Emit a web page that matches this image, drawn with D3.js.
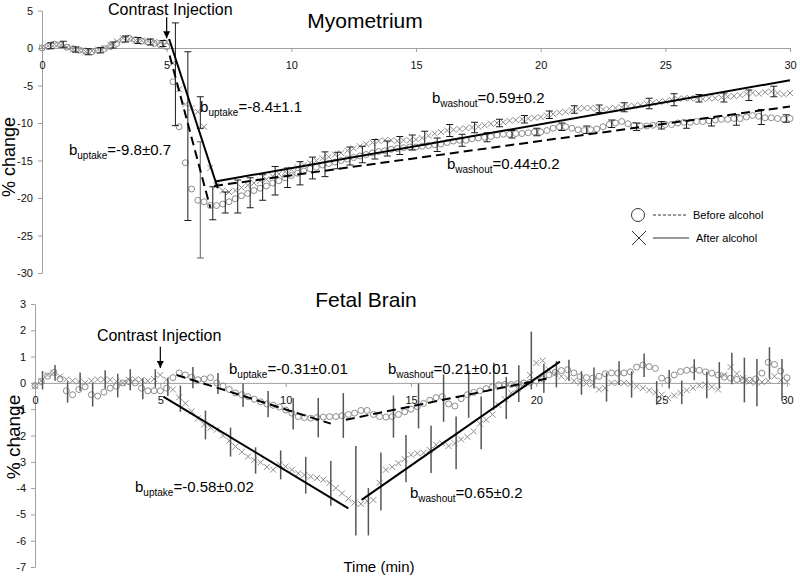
<!DOCTYPE html>
<html><head><meta charset="utf-8">
<script src="https://cdn.jsdelivr.net/npm/d3@7"></script>
<style>body{margin:0;background:#fff}svg{display:block}text{font-family:"Liberation Sans",Arial,sans-serif}</style>
</head><body><svg id="c" width="800" height="579"></svg>
<script>
// ---------- DATA ----------
const times = d3.range(121).map(i => i * 0.25); // minutes, 0..30

const myoBefore = [
0.0,0.2,0.5,0.4,0.1,-0.1,-0.3,-0.4,-0.5,-0.3,
-0.1,0.2,0.6,1.1,1.3,1.1,0.9,0.8,0.6,0.4,
0.2,-4.5,-10.5,-15.3,-18.8,-20.3,-20.5,-21.0,-21.0,-20.8,
-20.5,-20.1,-19.7,-19.4,-19.0,-18.7,-18.4,-18.0,-17.7,-17.3,
-17.0,-16.7,-16.4,-16.1,-15.9,-15.6,-15.4,-15.2,-15.0,-14.8,
-14.6,-14.4,-14.2,-14.0,-13.8,-13.7,-13.5,-13.4,-13.3,-13.2,
-13.2,-13.1,-13.0,-12.9,-12.8,-12.6,-12.4,-12.3,-12.3,-12.1,
-12.0,-11.9,-11.8,-11.6,-11.5,-11.5,-11.4,-11.4,-11.3,-11.2,
-11.2,-11.0,-10.7,-10.5,-10.5,-10.7,-10.9,-11.0,-10.9,-10.8,
-10.5,-10.2,-10.0,-9.8,-10.1,-10.3,-10.4,-10.4,-10.3,-10.2,
-10.2,-10.2,-10.0,-9.9,-9.9,-9.8,-9.8,-9.7,-9.6,-9.5,
-9.5,-9.4,-9.4,-9.2,-9.0,-9.1,-9.3,-9.3,-9.4,-9.5,
-9.4];
const myoAfter = [
0.1,0.3,0.5,0.4,0.1,-0.2,-0.3,-0.5,-0.4,-0.2,
0.0,0.4,0.9,1.3,1.2,1.0,1.0,0.9,0.8,0.7,
0.8,-2.0,-5.5,-7.5,-8.0,-8.5,-10.5,-16.0,-18.3,-19.0,
-19.2,-19.0,-18.6,-18.3,-18.0,-17.7,-17.5,-17.1,-16.8,-16.5,
-16.2,-15.9,-15.6,-15.3,-15.0,-14.7,-14.5,-14.2,-14.0,-13.7,
-13.4,-13.1,-12.8,-12.6,-12.4,-12.3,-12.3,-12.4,-12.3,-12.3,
-12.2,-12.0,-11.7,-11.4,-11.2,-11.0,-10.9,-10.8,-10.7,-10.6,
-10.5,-10.3,-10.1,-10.0,-9.9,-9.7,-9.6,-9.5,-9.4,-9.3,
-9.2,-9.0,-8.8,-8.6,-8.5,-8.3,-8.1,-8.0,-8.0,-8.1,
-8.2,-8.1,-8.0,-7.9,-7.8,-7.7,-7.6,-7.4,-7.3,-7.2,
-7.1,-6.9,-6.8,-6.7,-6.7,-6.7,-6.8,-6.7,-6.7,-6.6,
-6.5,-6.4,-6.3,-6.1,-6.0,-6.1,-5.9,-5.8,-6.0,-6.2,
-6.0];
const brainBefore = [
-0.1,0.05,0.25,0.4,0.15,-0.3,-0.45,-0.25,-0.15,-0.45,
-0.5,-0.35,-0.2,-0.13,0.0,0.05,0.0,-0.2,-0.3,-0.3,
-0.3,-0.2,0.2,0.38,0.3,0.22,0.12,0.15,0.2,0.0,
-0.12,-0.25,-0.38,-0.45,-0.52,-0.62,-0.72,-0.8,-0.85,-0.92,
-1.03,-1.15,-1.28,-1.32,-1.34,-1.32,-1.3,-1.28,-1.28,-1.25,
-1.2,-1.15,-1.05,-1.05,-1.2,-1.28,-1.3,-1.28,-1.2,-1.1,
-1.0,-0.9,-0.78,-0.66,-0.56,-0.52,-0.8,-0.88,-0.6,-0.45,
-0.36,-0.3,-0.22,-0.15,-0.07,-0.06,-0.06,-0.03,0.0,0.02,
0.08,0.15,0.3,0.4,0.47,0.5,0.38,0.24,0.2,0.18,
0.25,0.35,0.38,0.37,0.38,0.42,0.6,0.68,0.62,0.55,
0.18,0.1,0.3,0.43,0.48,0.5,0.48,0.42,0.37,0.3,
0.22,0.18,0.13,0.11,0.1,0.15,0.37,0.78,0.7,0.45,
0.2];
const brainAfter = [
-0.13,0.08,0.3,0.38,0.25,0.13,0.08,0.05,0.0,0.08,
0.13,0.13,0.12,0.05,0.0,0.12,0.13,0.12,0.08,0.15,
0.3,0.12,-0.25,-0.55,-0.78,-1.08,-1.35,-1.58,-1.7,-1.78,
-2.0,-2.2,-2.42,-2.62,-2.8,-2.93,-3.02,-3.2,-3.3,-3.1,
-3.18,-3.3,-3.44,-3.5,-3.56,-3.62,-3.68,-3.8,-4.0,-4.2,
-4.4,-4.55,-4.6,-4.5,-4.45,-3.8,-3.3,-3.2,-3.05,-2.9,
-2.73,-2.68,-2.66,-2.55,-2.35,-2.3,-2.4,-2.3,-2.15,-2.05,
-1.85,-1.55,-1.4,-1.2,-0.85,-0.62,-0.38,-0.22,-0.05,0.3,
0.76,0.85,0.5,0.35,0.25,0.18,0.08,0.0,-0.02,-0.06,
-0.25,-0.2,0.0,0.0,0.0,-0.05,-0.13,-0.2,-0.28,-0.36,
-0.45,-0.57,-0.48,-0.38,-0.28,-0.19,-0.1,-0.06,-0.15,-0.25,
0.3,0.6,0.35,0.18,0.05,0.0,0.03,0.08,0.25,0.1,
0.05];

// error bars (time, centre, half-length)
const myoErrT = d3.range(60).map(i => 0.35 + i * 0.5);
const myoErrMid = [
0.3,0.5,-0.2,-0.5,-0.3,0.4,1.2,1.0,0.8,0.6,
-3.5,-11.75,-8.6,-20.7,-20.6,-19.8,-19.3,-18.6,-17.7,-17.3,
-16.7,-16.0,-15.5,-15.0,-14.4,-14.2,-13.5,-13.4,-13.0,-12.6,
-12.0,-12.9,-11.0,-12.3,-10.6,-11.9,-10.0,-11.5,-9.5,-11.2,
-8.9,-10.5,-8.2,-10.9,-8.1,-10.1,-7.9,-10.5,-7.4,-10.3,
-6.9,-10.2,-6.7,-9.9,-6.6,-9.6,-6.3,-9.2,-5.8,-9.4];
const myoErrHalf = [
0.4,0.4,0.35,0.4,0.35,0.4,0.4,0.4,0.4,0.4,
6.85,11.25,2.1,2.2,1.4,2.2,2.0,1.7,1.9,1.3,
1.55,1.45,1.65,1.1,1.2,1.1,1.3,1.0,1.2,1.0,
0.9,0.9,0.8,0.8,0.7,0.6,0.5,0.5,0.5,0.5,
0.5,0.5,0.5,0.5,0.5,0.5,0.6,0.5,0.7,0.5,
0.8,0.5,0.5,0.5,0.6,0.7,0.7,1.0,0.7,0.5];
const myoGrayErrT = [6.35], myoGrayErrMid = [-20.25], myoGrayErrHalf = [7.75];

const brainErrT = d3.range(60).map(i => 0.3 + i * 0.5);
const brainErrMid = [
0.1,0.38,-0.35,0.05,-0.45,0.13,-0.1,0.12,-0.22,0.17,
-0.15,-0.6,0.2,-1.6,-0.02,-2.25,-0.47,-2.95,-0.81,-3.12,
-1.17,-3.51,-1.32,-3.82,-1.24,-4.1,-4.9,-3.75,-1.28,-2.88,
-0.88,-2.53,-0.58,-2.28,-0.43,-1.52,-0.13,-0.57,-0.03,0.85,
0.18,0.33,0.48,0.0,0.19,-0.16,0.37,-0.06,0.67,-0.38,
0.14,-0.36,0.5,-0.08,0.29,0.55,0.11,0.01,0.76,0.11];
const brainErrHalf = [
0.35,0.3,0.4,0.35,0.45,0.35,0.45,0.4,0.4,0.35,
0.35,0.5,0.4,0.55,0.4,0.55,0.45,0.5,0.5,0.55,
0.6,0.7,0.75,0.85,0.85,1.7,0.9,1.1,0.8,0.9,
0.85,0.9,0.9,1.0,0.9,1.0,0.9,0.8,0.7,1.1,
0.55,0.5,0.4,0.45,0.4,0.55,0.45,0.5,0.45,0.45,
0.35,0.45,0.4,0.5,0.5,0.6,0.85,0.9,0.6,0.8];

// regression fits: [[t0,v0],[t1,v1]]
const myoFitAfter  = [[[5.1,1.2],[7.05,-18.7]], [[6.95,-17.8],[30,-4.3]]];
const myoFitBefore = [[[5.12,-1.0],[6.75,-21.3]], [[6.9,-18.4],[30,-7.8]]];
const brainFitAfter  = [[[5.12,-0.52],[12.5,-4.77]], [[13.03,-4.45],[20.94,0.81]]];
const brainFitBefore = [[[5.65,0.3],[11.8,-1.55]], [[12.4,-1.4],[20.6,0.2]]];

const myoYTicks = [-30,-25,-20,-15,-10,-5,0,5];
const brainYTicks = [-7,-6,-5,-4,-3,-2,-1,0,1,2,3];
const xTicks = [0,5,10,15,20,25,30];

const myoNotes = [
  {t:6.34, v:-8.53, sub:"uptake", rest:"=-8.4±1.1"},
  {t:1.08, v:-14.27, sub:"uptake", rest:"=-9.8±0.7"},
  {t:15.64, v:-7.33, sub:"washout", rest:"=0.59±0.2"},
  {t:16.24, v:-16.13, sub:"washout", rest:"=0.44±0.2"}];
const brainNotes = [
  {t:7.74, v:0.34, sub:"uptake", rest:"=-0.31±0.01"},
  {t:14.08, v:0.34, sub:"washout", rest:"=0.21±0.01"},
  {t:3.99, v:-4.14, sub:"uptake", rest:"=-0.58±0.02"},
  {t:14.96, v:-4.37, sub:"washout", rest:"=0.65±0.2"}];

// ---------- DRAW ----------
const svg = d3.select("#c");
const defs = svg.append("defs");
defs.append("marker").attr("id","arr").attr("viewBox","0 0 10 10").attr("refX",10).attr("refY",5)
  .attr("markerWidth",9).attr("markerHeight",7).attr("markerUnits","userSpaceOnUse").attr("orient","auto")
  .append("path").attr("d","M0,0 L10,5 L0,10 Z").attr("fill","#000");

const GRAY = "#8c8c8c";

function panel(o) {
  const g = svg.append("g");
  const x = d3.scaleLinear().domain([0,30]).range(o.xr);
  const y = d3.scaleLinear().domain(o.yd).range(o.yr);

  const ya = g.append("g").attr("transform",`translate(${o.xr[0]},0)`)
    .call(d3.axisLeft(y).tickValues(o.yTicks).tickSize(4).tickSizeOuter(0).tickPadding(5).tickFormat(d => String(d)));
  const xa = g.append("g").attr("transform",`translate(0,${y(0)})`)
    .call(d3.axisBottom(x).tickValues(xTicks).tickSize(4).tickSizeOuter(0).tickPadding(9).tickFormat(d => String(d)));
  [ya, xa].forEach(a => {
    a.selectAll("path,line").attr("stroke","#a0a0a0");
    a.selectAll("text").attr("fill","#111").attr("font-size",11).attr("font-family","Liberation Sans, Arial, sans-serif");
  });

  // markers
  g.append("g").selectAll("circle").data(o.before).join("circle")
    .attr("cx",(d,i)=>x(times[i])).attr("cy",d=>y(d)).attr("r",3)
    .attr("fill","none").attr("stroke",GRAY).attr("stroke-width",1);
  const s = 3;
  g.append("g").selectAll("path").data(o.after).join("path")
    .attr("d",(d,i)=>{const cx=x(times[i]), cy=y(d);
      return `M${cx-s},${cy-s}L${cx+s},${cy+s}M${cx-s},${cy+s}L${cx+s},${cy-s}`;})
    .attr("stroke",GRAY).attr("stroke-width",1);

  // error bars
  const drawErr = (T, M, H, col, w, cap) => {
    const eg = g.append("g").attr("stroke",col).attr("stroke-width",w);
    T.forEach((t,i) => {
      const xx = x(t), y0 = y(M[i]-H[i]), y1 = y(M[i]+H[i]);
      eg.append("line").attr("x1",xx).attr("x2",xx).attr("y1",y0).attr("y2",y1);
      if (cap) {
        eg.append("line").attr("x1",xx-cap).attr("x2",xx+cap).attr("y1",y0).attr("y2",y0);
        eg.append("line").attr("x1",xx-cap).attr("x2",xx+cap).attr("y1",y1).attr("y2",y1);
      }
    });
  };
  o.errs.forEach(e => drawErr(...e));

  // fit lines
  const line = d3.line().x(d=>x(d[0])).y(d=>y(d[1]));
  o.fitBefore.forEach(seg => g.append("path").attr("d",line(seg)).attr("fill","none")
    .attr("stroke","#000").attr("stroke-width",2).attr("stroke-dasharray","9,5"));
  o.fitAfter.forEach(seg => g.append("path").attr("d",line(seg)).attr("fill","none")
    .attr("stroke","#000").attr("stroke-width",2));

  // notes
  o.notes.forEach(n => {
    const t = g.append("text").attr("x",x(n.t)).attr("y",y(n.v)).attr("font-size",15).attr("fill","#000");
    t.append("tspan").text("b");
    t.append("tspan").attr("font-size",10).attr("dy",4).text(n.sub);
    t.append("tspan").attr("dy",-4).text(n.rest);
  });

  // contrast injection
  g.append("text").attr("x",x(o.inj.t)).attr("y",y(o.inj.v)).attr("font-size",16).attr("fill","#000").text("Contrast Injection");
  g.append("line").attr("x1",x(5)).attr("x2",x(5)).attr("y1",y(o.inj.a0)).attr("y2",y(o.inj.a1))
    .attr("stroke","#000").attr("stroke-width",1.2).attr("marker-end","url(#arr)");

  // title
  g.append("text").attr("x",o.title.x).attr("y",o.title.y).attr("text-anchor","middle")
    .attr("font-size",21).attr("fill","#000").text(o.title.text);
  // y label
  g.append("text").attr("transform",`translate(${o.yl.x},${o.yl.y}) rotate(-90)`).attr("text-anchor","middle")
    .attr("font-size",o.yl.size).attr("fill","#000").text("% change");
  return {x, y, g};
}

const topPanel = panel({
  xr:[42,790], yd:[-30,5], yr:[273,10.5], yTicks:myoYTicks,
  before:myoBefore, after:myoAfter,
  errs:[[myoErrT,myoErrMid,myoErrHalf,"#1a1a1a",1,3.5],[myoGrayErrT,myoGrayErrMid,myoGrayErrHalf,"#777",1.2,3.5]],
  fitBefore:myoFitBefore, fitAfter:myoFitAfter, notes:myoNotes,
  inj:{t:2.65, v:4.4, a0:4.1, a1:1.3},
  title:{x:365, y:28, text:"Myometrium"},
  yl:{x:15, y:157, size:18}
});

// legend
const lg = svg.append("g");
lg.append("circle").attr("cx",638).attr("cy",215).attr("r",6.5).attr("fill","none").attr("stroke","#333").attr("stroke-width",1);
lg.append("line").attr("x1",653).attr("x2",688).attr("y1",215).attr("y2",215).attr("stroke","#333").attr("stroke-dasharray","3,2");
lg.append("text").attr("x",693).attr("y",219).attr("font-size",11).text("Before alcohol");
lg.append("path").attr("d","M632,231L646,245M632,245L646,231").attr("stroke","#333").attr("stroke-width",1);
lg.append("line").attr("x1",653).attr("x2",689).attr("y1",238).attr("y2",238).attr("stroke","#333");
lg.append("text").attr("x",696).attr("y",242).attr("font-size",11).text("After alcohol");

const bottomPanel = panel({
  xr:[35,787], yd:[-7,3], yr:[567,304], yTicks:brainYTicks,
  before:brainBefore, after:brainAfter,
  errs:[[brainErrT,brainErrMid,brainErrHalf,"#555",1.5,0]],
  fitBefore:brainFitBefore, fitAfter:brainFitAfter, notes:brainNotes,
  inj:{t:2.47, v:1.61, a0:1.37, a1:0.57},
  title:{x:366, y:307, text:"Fetal Brain"},
  yl:{x:20, y:437, size:19}
});

svg.append("text").attr("x",379).attr("y",572).attr("text-anchor","middle").attr("font-size",15).text("Time (min)");
</script></body></html>
